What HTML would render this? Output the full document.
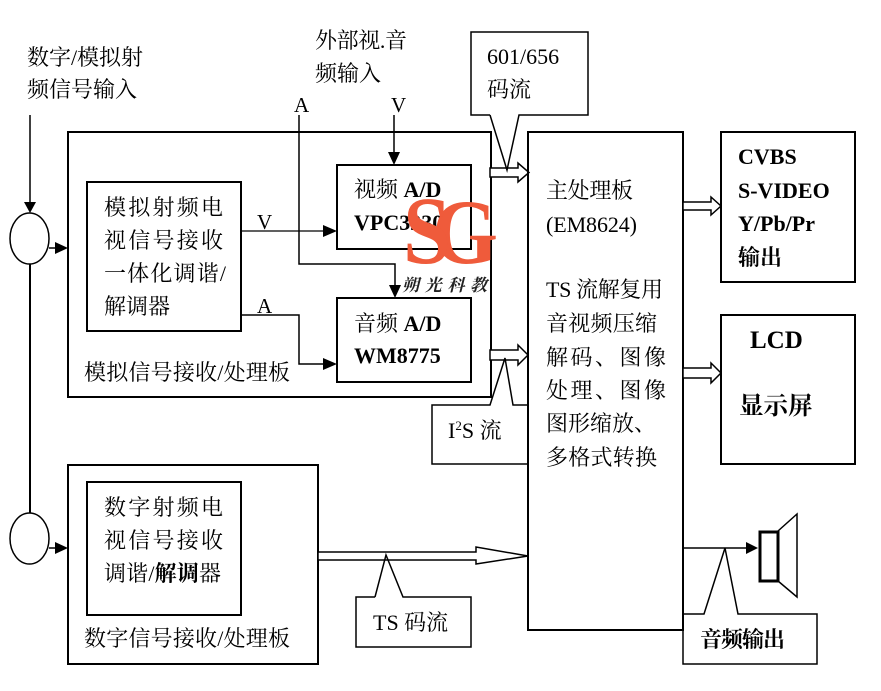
<!DOCTYPE html>
<html>
<head>
<meta charset="utf-8">
<style>
  html, body { margin: 0; padding: 0; background: #fff; }
  svg { display: block; }
  text { font-family: "Liberation Serif", "Noto Serif CJK SC", serif; font-size: 22px; fill: #000; }
  .b { font-weight: bold; }
</style>
</head>
<body>
<svg width="881" height="691" viewBox="0 0 881 691" xmlns="http://www.w3.org/2000/svg">
  <rect x="0" y="0" width="881" height="691" fill="#fff"/>

  <!-- top-left input label -->
  <text x="27" y="65" textLength="116" lengthAdjust="spacing">数字/模拟射</text>
  <text x="27" y="97" textLength="110" lengthAdjust="spacing">频信号输入</text>

  <!-- input arrow down to circle 1 -->
  <line x1="30" y1="115" x2="30" y2="204" stroke="#000" stroke-width="1.5"/>
  <polygon points="24,202 36,202 30,213" fill="#000"/>
  <ellipse cx="29.5" cy="238.5" rx="19.5" ry="25.5" fill="none" stroke="#000" stroke-width="1.5"/>
  <line x1="49" y1="248" x2="57" y2="248" stroke="#000" stroke-width="1.5"/>
  <polygon points="55,242 68,248 55,254" fill="#000"/>
  <line x1="30" y1="264" x2="30" y2="513" stroke="#000" stroke-width="2"/>
  <ellipse cx="29.5" cy="538.5" rx="19.5" ry="25.5" fill="none" stroke="#000" stroke-width="1.5"/>
  <line x1="49" y1="548" x2="57" y2="548" stroke="#000" stroke-width="1.5"/>
  <polygon points="55,542 68,548 55,554" fill="#000"/>

  <!-- analog board -->
  <rect x="68" y="132" width="423" height="265" fill="none" stroke="#000" stroke-width="2"/>
  <rect x="87" y="182" width="154" height="149" fill="none" stroke="#000" stroke-width="2"/>
  <text x="104" y="215" textLength="119" lengthAdjust="spacing">模拟射频电</text>
  <text x="104" y="248" textLength="119" lengthAdjust="spacing">视信号接收</text>
  <text x="104" y="281" textLength="122" lengthAdjust="spacing">一体化调谐/</text>
  <text x="104" y="314" textLength="66" lengthAdjust="spacing">解调器</text>
  <text x="84" y="380" textLength="206" lengthAdjust="spacing">模拟信号接收/处理板</text>

  <!-- video and audio A/D boxes -->
  <rect x="337" y="165" width="134" height="84" fill="none" stroke="#000" stroke-width="2"/>
  <rect x="337" y="298" width="134" height="84" fill="none" stroke="#000" stroke-width="2"/>
  <text x="354" y="197">视频 <tspan class="b">A/D</tspan></text>
  <text x="354" y="230" class="b">VPC3230</text>
  <text x="354" y="331">音频 <tspan class="b">A/D</tspan></text>
  <text x="354" y="363" class="b">WM8775</text>

  <!-- V line -->
  <line x1="241" y1="231" x2="325" y2="231" stroke="#000" stroke-width="1.2"/>
  <polygon points="323,225 337,231 323,237" fill="#000"/>
  <text x="257" y="229" style="font-size:21px">V</text>
  <!-- A line -->
  <polyline points="241,315 299,315 299,364 325,364" fill="none" stroke="#000" stroke-width="1.5"/>
  <polygon points="323,358 337,364 323,370" fill="#000"/>
  <text x="257" y="313" style="font-size:21px">A</text>

  <!-- external A/V inputs -->
  <text x="315" y="48" textLength="92" lengthAdjust="spacing">外部视.音</text>
  <text x="315" y="81">频输入</text>
  <text x="294" y="112" style="font-size:21px">A</text>
  <text x="391" y="112" style="font-size:21px">V</text>
  <polyline points="299,115 299,264 395,264 395,287" fill="none" stroke="#000" stroke-width="1.5"/>
  <polygon points="389,285 401,285 395,298" fill="#000"/>
  <line x1="394" y1="115" x2="394" y2="154" stroke="#000" stroke-width="1.5"/>
  <polygon points="388,152 400,152 394,165" fill="#000"/>

  <!-- hollow arrows analog -> main -->
  <polygon points="490,168 518,168 518,163 529,172.5 518,182 518,177 490,177" fill="#fff" stroke="#000" stroke-width="1.5"/>
  <polygon points="490,350 518,350 518,345 528,355 518,365 518,360 490,360" fill="#fff" stroke="#000" stroke-width="1.5"/>

  <!-- 601/656 callout -->
  <path d="M490,115 L471,115 L471,32 L588,32 L588,115 L519,115 L507,170 L490,115" fill="none" stroke="#000" stroke-width="1.5"/>
  <text x="487" y="64">601/656</text>
  <text x="487" y="97">码流</text>

  <!-- I2S callout -->
  <path d="M528,405 L513,405 L505,358 L490,405 L432,405 L432,464 L528,464" fill="none" stroke="#000" stroke-width="1.5"/>
  <text x="448" y="438">I<tspan dy="-8" style="font-size:13px">2</tspan><tspan dy="8">S 流</tspan></text>

  <!-- main processing board -->
  <rect x="528" y="132" width="155" height="498" fill="none" stroke="#000" stroke-width="2"/>
  <text x="546" y="198" textLength="87" lengthAdjust="spacing">主处理板</text>
  <text x="546" y="232" textLength="91" lengthAdjust="spacing">(EM8624)</text>
  <text x="546" y="297" textLength="117" lengthAdjust="spacing">TS 流解复用</text>
  <text x="546" y="331" textLength="111" lengthAdjust="spacing">音视频压缩</text>
  <text x="546" y="365" textLength="120" lengthAdjust="spacing">解码、图像</text>
  <text x="546" y="398" textLength="120" lengthAdjust="spacing">处理、图像</text>
  <text x="546" y="431" textLength="110" lengthAdjust="spacing">图形缩放、</text>
  <text x="546" y="465" textLength="111" lengthAdjust="spacing">多格式转换</text>

  <!-- output boxes -->
  <rect x="721" y="132" width="134" height="150" fill="none" stroke="#000" stroke-width="2"/>
  <text x="738" y="164" class="b">CVBS</text>
  <text x="738" y="198" class="b">S-VIDEO</text>
  <text x="738" y="231" class="b">Y/Pb/Pr</text>
  <text x="738" y="265" class="b">输出</text>
  <rect x="721" y="315" width="134" height="149" fill="none" stroke="#000" stroke-width="2"/>
  <text x="750" y="348" class="b" style="font-size:25px">LCD</text>
  <text x="739" y="414" class="b" style="font-size:24.5px">显示屏</text>

  <polygon points="683,202 711,202 711,197 721,206 711,215 711,210 683,210" fill="#fff" stroke="#000" stroke-width="1.5"/>
  <polygon points="683,368 711,368 711,363 721,373 711,383 711,378 683,378" fill="#fff" stroke="#000" stroke-width="1.5"/>

  <!-- digital board -->
  <rect x="68" y="465" width="250" height="199" fill="none" stroke="#000" stroke-width="2"/>
  <rect x="87" y="482" width="154" height="133" fill="none" stroke="#000" stroke-width="2"/>
  <text x="104" y="515" textLength="119" lengthAdjust="spacing">数字射频电</text>
  <text x="104" y="548" textLength="119" lengthAdjust="spacing">视信号接收</text>
  <text x="104" y="581" textLength="117" lengthAdjust="spacing">调谐/<tspan class="b">解调</tspan>器</text>
  <text x="84" y="646" textLength="206" lengthAdjust="spacing">数字信号接收/处理板</text>

  <!-- TS hollow arrow -->
  <polygon points="318,552 476,552 476,547 528,556 476,564 476,560 318,560" fill="#fff" stroke="#000" stroke-width="1.5"/>
  <path d="M375,597 L356,597 L356,647 L471,647 L471,597 L403,597 L386,555 L375,597" fill="none" stroke="#000" stroke-width="1.5"/>
  <text x="373" y="630">TS 码流</text>

  <!-- audio output -->
  <line x1="683" y1="548" x2="748" y2="548" stroke="#000" stroke-width="1.5"/>
  <polygon points="746,542 758,548 746,554" fill="#000"/>
  <rect x="760" y="532" width="18" height="49" fill="#fff" stroke="#000" stroke-width="3"/>
  <polygon points="778,531 797,514 797,597 778,581" fill="none" stroke="#000" stroke-width="1.5"/>
  <path d="M683,630 L683,664 L817,664 L817,614 L738,614 L725,548 L704,614 L683,614" fill="none" stroke="#000" stroke-width="1.5"/>
  <text x="700" y="647" class="b" textLength="85" lengthAdjust="spacing">音频输出</text>

  <!-- watermark -->
  <text x="432" y="263" style="font-size:92px;fill:#ef5b3b;font-weight:bold" textLength="66" lengthAdjust="spacingAndGlyphs">G</text>
  <text x="403" y="263" style="font-size:96px;fill:#ef5b3b;font-weight:bold" textLength="48" lengthAdjust="spacingAndGlyphs">S</text>
  <text x="402" y="291" style="font-size:17px;font-weight:bold;font-style:italic;fill:#222" textLength="85" lengthAdjust="spacing">朔光科教</text>
</svg>
</body>
</html>
